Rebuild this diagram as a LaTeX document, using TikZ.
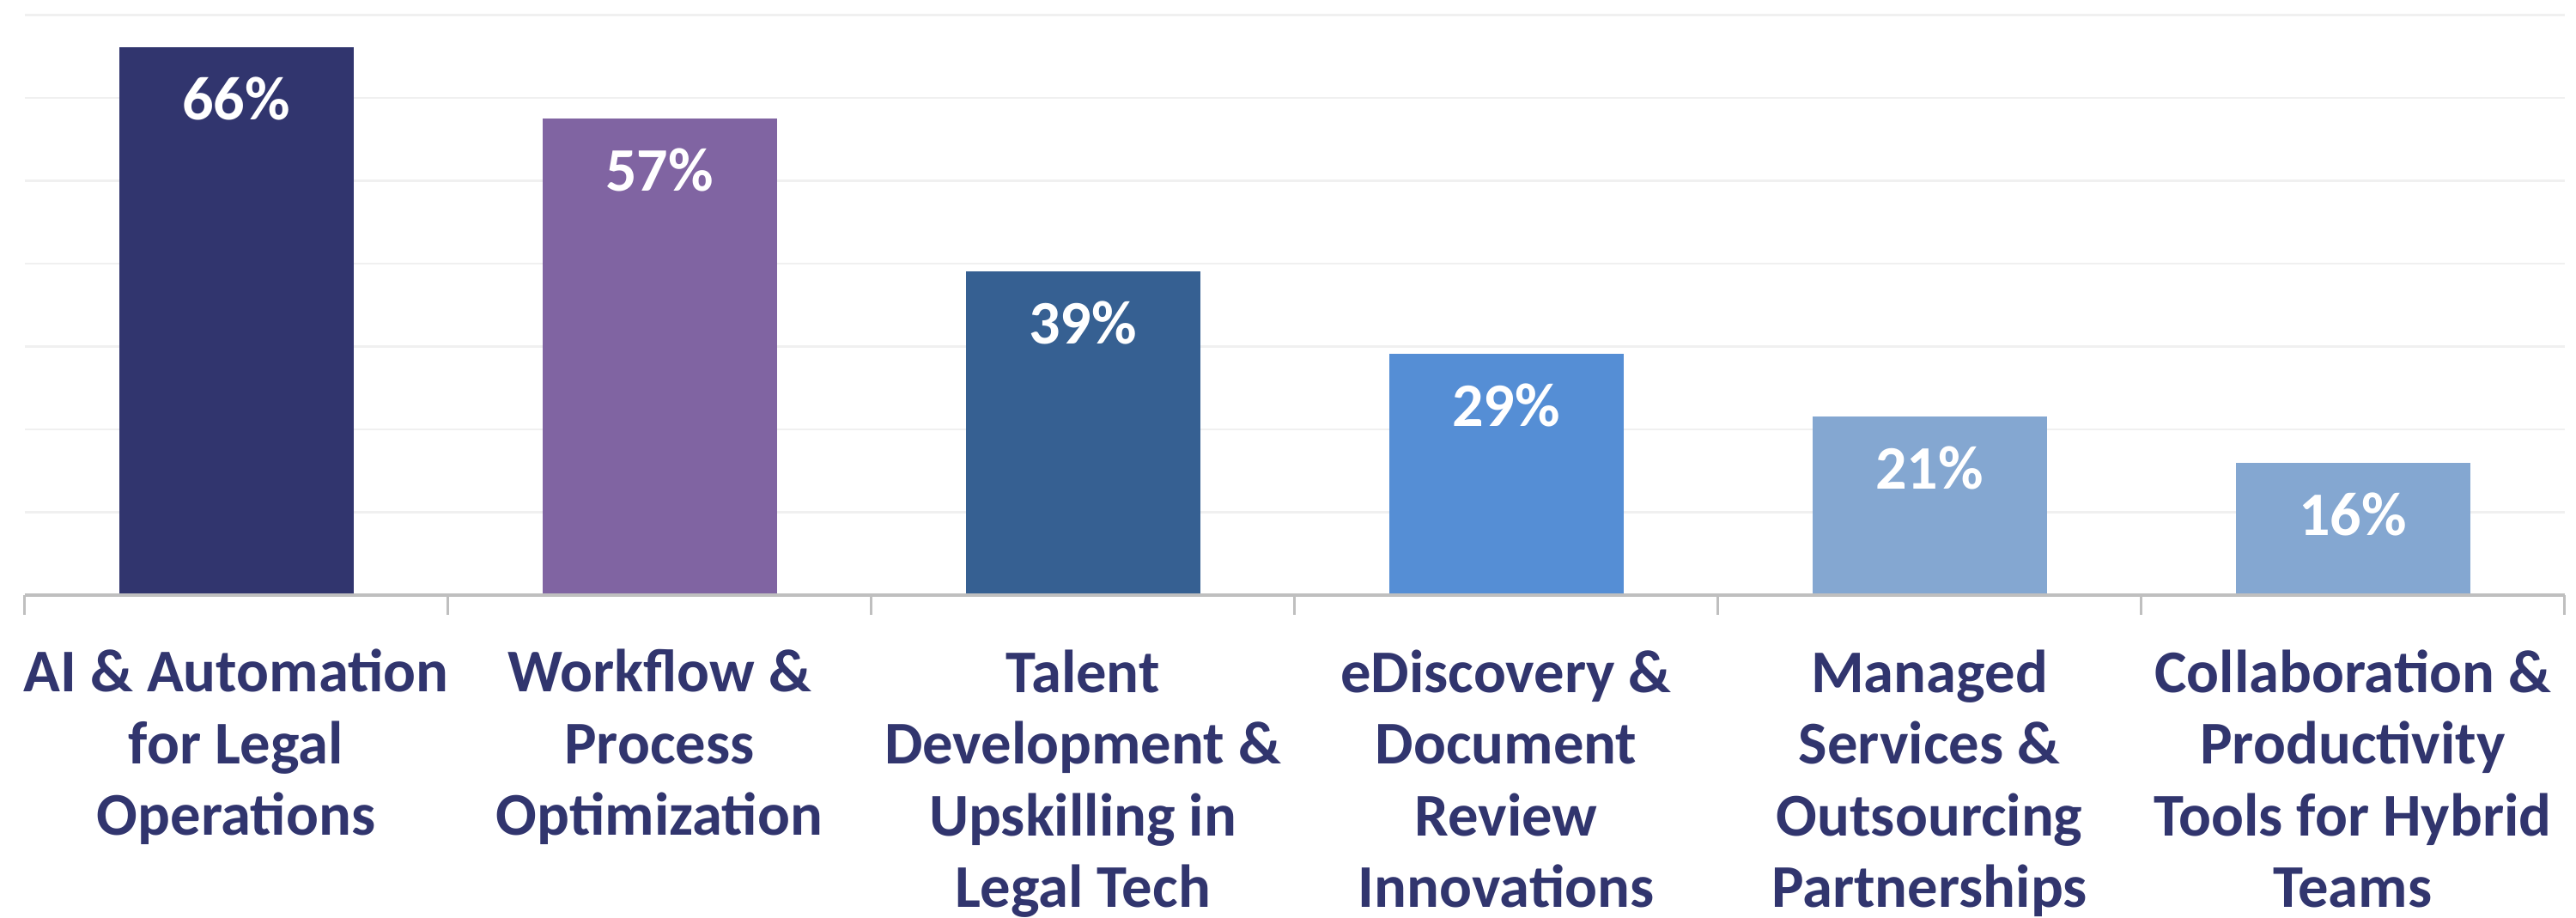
\documentclass[tikz,border=0pt]{standalone}
\usepackage{fontspec}
\setmainfont{Carlito}
\usepackage{tikz}
\usetikzlibrary{positioning}

\definecolor{navy}{HTML}{31356E}
\definecolor{violet}{HTML}{8064A2}
\definecolor{steel}{HTML}{366092}
\definecolor{sky}{HTML}{558ED5}
\definecolor{pale}{HTML}{84A7D1}
\definecolor{gridgray}{HTML}{F0F0F0}
\definecolor{axisgray}{HTML}{BFBFBF}

\tikzset{
  bar/.style={rectangle, anchor=south, minimum width=2.73cm, inner sep=0pt},
  val/.style={text=white, font=\fontsize{20.5}{24}\selectfont\bfseries, inner sep=0pt},
  cat/.style={text=navy, align=center, anchor=base, inner sep=0pt, font=\fontsize{20.1}{23.8}\selectfont\bfseries}
}

\begin{document}
\begin{tikzpicture}
      \useasboundingbox (0,0) rectangle (30,10.69);
      % Grid
      \foreach \k in {1,...,7}
        \draw[gridgray, line width=0.6pt] (0.287,3.76+0.965*\k) -- (29.87,3.76+0.965*\k);
      % Bars
      \node[bar, fill=navy, minimum height=6.37cm] (b1) at (2.75,3.76) {};
      \node[bar, fill=violet, minimum height=5.54cm] (b2) at (7.68,3.76) {};
      \node[bar, fill=steel, minimum height=3.76cm] (b3) at (12.61,3.76) {};
      \node[bar, fill=sky, minimum height=2.80cm] (b4) at (17.54,3.76) {};
      \node[bar, fill=pale, minimum height=2.07cm] (b5) at (22.47,3.76) {};
      \node[bar, fill=pale, minimum height=1.53cm] (b6) at (27.40,3.76) {};
      % Values
      \node[val, below=0.845cm of b1.north, anchor=base] (v1) {66\%};
      \node[val, below=0.845cm of b2.north, anchor=base] (v2) {57\%};
      \node[val, below=0.845cm of b3.north, anchor=base] (v3) {39\%};
      \node[val, below=0.845cm of b4.north, anchor=base] (v4) {29\%};
      \node[val, below=0.845cm of b5.north, anchor=base] (v5) {21\%};
      \node[val, below=0.845cm of b6.north, anchor=base] (v6) {16\%};
      % Axis
      \draw[axisgray, line width=0.9pt] (0.287,3.76) -- (29.87,3.76);
      \foreach \k in {0,...,6}
        \draw[axisgray, line width=0.9pt] (0.287+4.93*\k,3.76) -- (0.287+4.93*\k,3.53);
      % Categories (base = last line)
      \node[cat] (c1) at (2.75,0.96) {AI \& Automation\\for Legal\\Operations};
      \node[cat] (c2) at (7.68,0.96) {Workflow \&\\Process\\Optimization};
      \node[cat] (c3) at (12.61,0.12) {Talent\\Development \&\\Upskilling in\\Legal Tech};
      \node[cat] (c4) at (17.54,0.12) {eDiscovery \&\\Document\\Review\\Innovations};
      \node[cat] (c5) at (22.47,0.12) {Managed\\Services \&\\Outsourcing\\Partnerships};
      \node[cat] (c6) at (27.40,0.12) {Collaboration \&\\Productivity\\Tools for Hybrid\\Teams};
    \end{tikzpicture}
\end{document}
